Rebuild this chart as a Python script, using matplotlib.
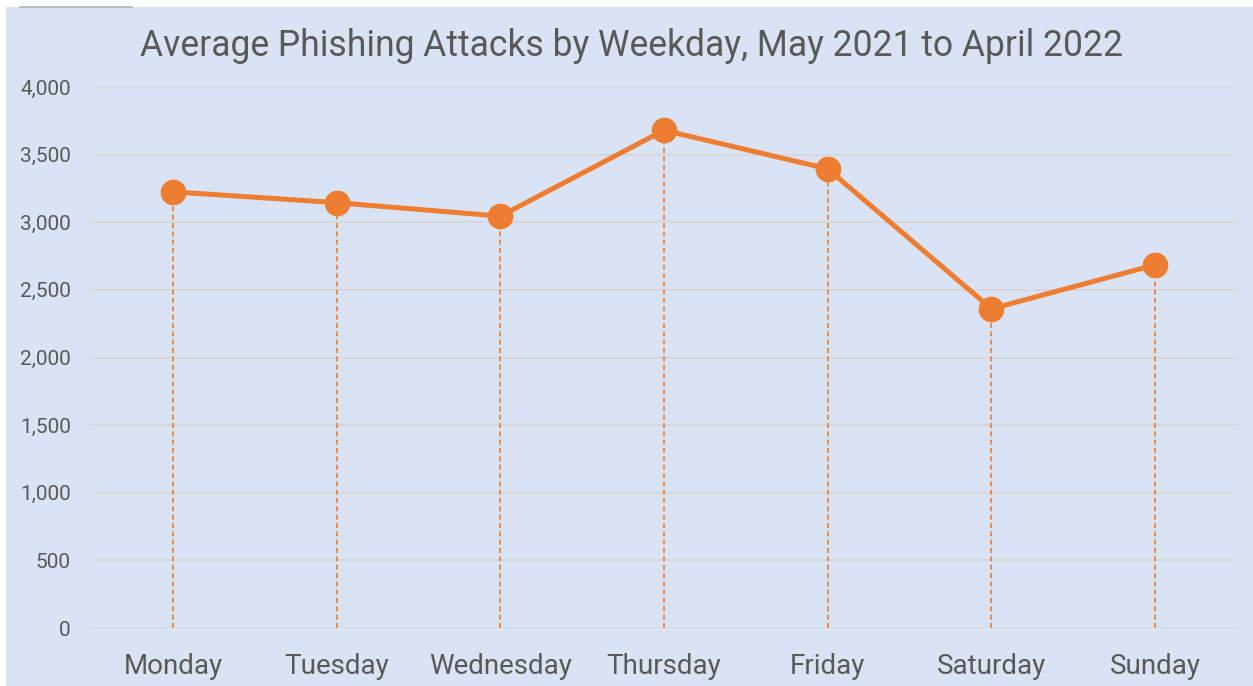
import matplotlib
matplotlib.use("Agg")
import matplotlib.pyplot as plt
from matplotlib.ticker import FuncFormatter, MultipleLocator
from matplotlib.patches import Rectangle
from matplotlib.lines import Line2D

days = ["Monday", "Tuesday", "Wednesday", "Thursday", "Friday", "Saturday", "Sunday"]
attacks = [3225, 3145, 3045, 3680, 3395, 2360, 2685]
title = "Average Phishing Attacks by Weekday, May 2021 to April 2022"

ORANGE = "#ED7D31"
BG = "#DAE3F3"
TXT = "#595959"
GRID = "#D5D5D5"

plt.rcParams['font.family'] = ['Roboto', 'DejaVu Sans']

fig = plt.figure(figsize=(12.53, 6.86), dpi=100)
fig.patch.set_facecolor("white")
# chart area background (leaving thin white margin at top/left)
fig.patches.append(Rectangle((6/1253, 0), 1 - 6/1253, 1 - 7/686, transform=fig.transFigure,
                             facecolor=BG, edgecolor="none", zorder=-10))
fig.lines.append(Line2D([20/1253, 132/1253], [1 - 7/686, 1 - 7/686],
                        transform=fig.transFigure, color="#BFBFBF", lw=1.5, zorder=-5))

ax = fig.add_axes([91/1253, (686-628)/686, 1146/1253, 541/686])
ax.set_zorder(1)
ax.set_facecolor("none")
x = list(range(len(days)))
ax.vlines(x, 0, attacks, colors=ORANGE, linestyles=(0, (3, 2)), linewidth=1.2, zorder=2)
ax.plot(x, attacks, color=ORANGE, linewidth=3.6, marker="o", markersize=17.5,
        markerfacecolor=ORANGE, markeredgecolor=ORANGE, zorder=3)

ax.set_xlim(-0.5, len(days) - 0.5)
ax.set_ylim(0, 4000)
ax.yaxis.set_major_locator(MultipleLocator(500))
ax.yaxis.set_major_formatter(FuncFormatter(lambda v, p: f"{int(v):,}"))
ax.set_xticks(x)
ax.set_xticklabels(days)
ax.grid(axis="y", color=GRID, linewidth=1.2)
ax.set_axisbelow(True)
for s in ax.spines.values():
    s.set_visible(False)
ax.tick_params(axis="y", length=0, pad=14.5, labelsize=15, labelcolor=TXT)
ax.tick_params(axis="x", length=0, pad=18, labelsize=20, labelcolor=TXT)

fig.text(632/1253, 1 - 46/686, title, ha="center", va="center", fontsize=25.6, color=TXT, zorder=5)

fig.savefig("out.png", dpi=100, facecolor=fig.get_facecolor())
